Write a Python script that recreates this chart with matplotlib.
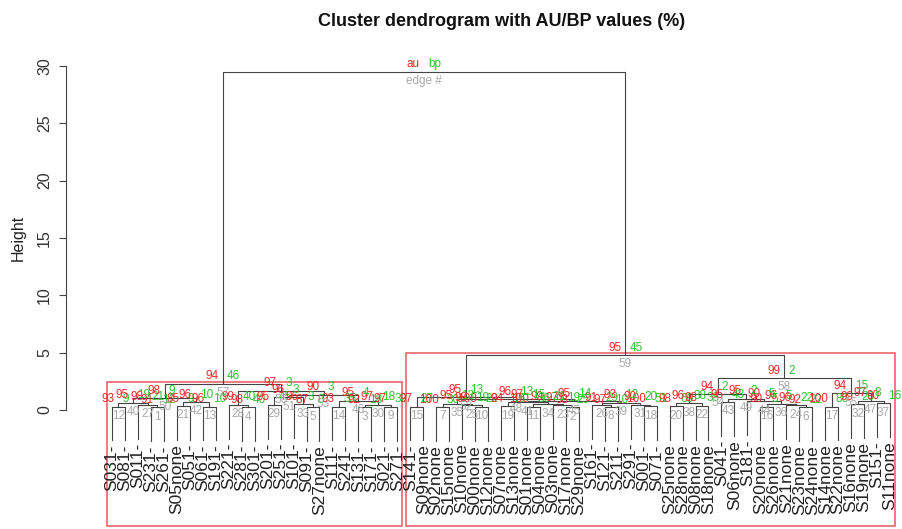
import matplotlib.pyplot as plt
from matplotlib.patches import Rectangle

plt.rcParams['font.family'] = ['Liberation Sans', 'DejaVu Sans']

# leaves in plotting order
leaf_labels = ['S031-', 'S081-', 'S011-', 'S231-', 'S261-', 'S05none', 'S051-', 'S061-',
               'S191-', 'S221-', 'S281-', 'S301-', 'S201-', 'S251-', 'S101-', 'S091-',
               'S27none', 'S111-', 'S241-', 'S131-', 'S171-', 'S021-', 'S271-',
               'S141-', 'S09none', 'S02none', 'S15none', 'S10none', 'S00none', 'S12none',
               'S07none', 'S13none', 'S01none', 'S04none', 'S03none', 'S17none', 'S29none',
               'S161-', 'S121-', 'S211-', 'S291-', 'S001-', 'S071-', 'S25none', 'S28none',
               'S08none', 'S18none', 'S041-', 'S06none', 'S181-', 'S20none', 'S26none',
               'S21none', 'S23none', 'S24none', 'S14none', 'S22none', 'S16none', 'S19none',
               'S151-', 'S11none']

# hclust style merge matrix (negative = leaf, positive = earlier row)
merge_a = [-1, -4, -3, 1, -6, -8, 5, 4, -11, -10, -13, -16, -15, 11, -18, -20, -22, 16, 15, 14, 10, 8,
           -24, -26, -29, -28, 24, -31, -33, -36, -35, 29, 28, -39, -38, -42, -41, 35, 33, 27, 23,
           -44, -46, 42, -48, -51, -54, -53, 46, -50, 45, 44, -56, -58, -60, 54, 53, 52, 41, 22]
merge_b = [-2, -5, 2, 3, -7, -9, 6, 7, -12, 9, -14, -17, 12, 13, -19, -21, -23, 17, 18, 19, 20, 21,
           -25, -27, -30, 25, 26, -32, -34, -37, 30, 31, 32, -40, 34, -43, 36, 37, 38, 39, 40,
           -45, -47, 43, -49, -52, -55, 47, 48, 49, 50, 51, -57, -59, -61, 55, 56, 57, 58, 59]
merge_height = [0.30, 0.22, 0.45, 0.65, 0.35, 0.30, 0.70, 1.05, 0.25, 0.45, 0.45, 0.25, 0.50, 1.10,
                0.30, 0.24, 0.28, 0.45, 0.80, 1.35, 1.70, 2.30,
                0.30, 0.26, 0.28, 0.42, 0.55, 0.32, 0.29, 0.23, 0.40, 0.52, 0.68, 0.27, 0.44, 0.31,
                0.46, 0.62, 0.78, 0.92, 1.10,
                0.33, 0.36, 0.60, 0.70, 0.30, 0.25, 0.40, 0.55, 0.75, 1.00, 1.40, 0.30, 0.48, 0.58,
                0.80, 1.45, 2.80, 4.80, 29.50]
au = [93, 91, 98, 95, 85, 96, 96, 98, 98, 99, 95, 87, 96, 96, 93, 92, 97, 97, 95, 90, 97, 94,
      97, 100, 100, 98, 95, 94, 100, 98, 97, 99, 97, 97, 91, 100, 90, 93, 95, 96, 95,
      98, 98, 96, 95, 90, 92, 96, 96, 90, 95, 94, 100, 99, 90, 97, 94, 99, 95, 100]
bp = [9, 12, 21, 19, 9, 10, 10, 9, 40, 40, 45, 8, 3, 3, 35, 18, 32, 18, 4, 3, 3, 46,
      27, 30, 22, 19, 13, 16, 36, 25, 19, 21, 15, 10, 29, 51, 20, 12, 14, 13, 13,
      60, 38, 38, 43, 5, 22, 22, 5, 5, 2, 2, 86, 20, 16, 8, 15, 2, 45, 100]

# clusters boxed by pvrect (row numbers)
rect_rows = [22, 59]

au_col = '#ee2a2a'
bp_col = '#2ec22e'
edge_col = '#aaaaaa'
line_col = '#444444'
rect_col = '#e8575c'

n_merge = len(merge_height)
hang = 0.1 * max(merge_height)


def collect(ref):
    if ref < 0:
        return [-ref]
    return collect(merge_a[ref - 1]) + collect(merge_b[ref - 1])


order = collect(n_merge)
leaf_pos = {leaf: i + 1 for i, leaf in enumerate(order)}

# edge numbers follow height order
ranked = sorted(range(n_merge), key=lambda r: merge_height[r])
edge_num = [0] * n_merge
for k, r in enumerate(ranked):
    edge_num[r] = k + 1

fig = plt.figure(figsize=(9.03, 5.29), dpi=100)
ax = fig.add_axes([66 / 903, 0, 837 / 903, 489 / 529])
ax.set_xlim(-2.5475, 62.0)
ax.set_ylim(-10.378, 32.267)

node_x = [0.0] * n_merge


def child_xy(ref, parent_h):
    if ref < 0:
        return leaf_pos[-ref], parent_h - hang
    return node_x[ref - 1], merge_height[ref - 1]


lab_size = 8.5
for r in range(n_merge):
    h = merge_height[r]
    xa, ya = child_xy(merge_a[r], h)
    xb, yb = child_xy(merge_b[r], h)
    node_x[r] = (xa + xb) / 2
    ax.plot([xa, xa, xb, xb], [ya, h, h, yb], color=line_col, lw=0.8)
    for ref, x, y in ((merge_a[r], xa, ya), (merge_b[r], xb, yb)):
        if ref < 0:
            ax.annotate(leaf_labels[-ref - 1], (x, y), xytext=(0, -3), textcoords='offset points',
                        rotation=90, ha='center', va='top', fontsize=12.5, color='#222222')
    if r < n_merge - 1:
        texts = (str(au[r]), str(bp[r]), str(edge_num[r]))
    else:
        texts = ('au', 'bp', 'edge #')
    ax.annotate(texts[0], (node_x[r], h), xytext=(-3, 1), textcoords='offset points',
                ha='right', va='bottom', fontsize=lab_size, color=au_col)
    ax.annotate(texts[1], (node_x[r], h), xytext=(3, 1), textcoords='offset points',
                ha='left', va='bottom', fontsize=lab_size, color=bp_col)
    ax.annotate(texts[2], (node_x[r], h), xytext=(0, -2.5), textcoords='offset points',
                ha='center', va='top', fontsize=lab_size, color=edge_col)

for row in rect_rows:
    members = [leaf_pos[l] for l in collect(row)]
    lo, hi = min(members) - 0.35, max(members) + 0.35
    bottom = -10.15
    top = merge_height[row - 1] + 0.15
    ax.add_patch(Rectangle((lo, bottom), hi - lo, top - bottom, fill=False,
                           edgecolor=rect_col, lw=1.1, clip_on=False))

for s in ['top', 'right', 'bottom']:
    ax.spines[s].set_visible(False)
ax.spines['left'].set_bounds(0, 30)
ax.spines['left'].set_color(line_col)
ax.spines['left'].set_linewidth(0.8)
ax.set_xticks([])
ax.set_yticks([0, 5, 10, 15, 20, 25, 30])
ax.tick_params(axis='y', length=5, width=0.8, color=line_col, pad=5, labelsize=11.5,
               labelcolor='#333333')
for t in ax.get_yticklabels():
    t.set_rotation(90)
    t.set_va('center')

fig.text(18 / 903, 1 - 238 / 529, 'Height', rotation=90, ha='center', va='center',
         fontsize=11.5, color='#222222')
fig.text(502 / 903, 1 - 22 / 529, 'Cluster dendrogram with AU/BP values (%)',
         ha='center', va='center', fontsize=13, fontweight='bold', color='#111111')

fig.savefig('out.png', dpi=100)
